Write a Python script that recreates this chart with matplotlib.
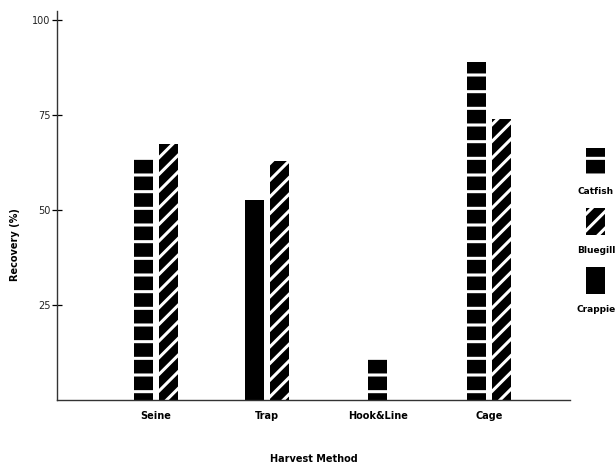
import matplotlib
matplotlib.use("Agg")
import matplotlib.pyplot as plt
from matplotlib.patches import Rectangle
import numpy as np

# recovery (%) by harvest method
methods = ["Seine", "Trap", "Hook&Line", "Cage"]
species = ["Catfish", "Bluegill", "Crappie"]
catfish = [63.5, 0, 11, 89]
bluegill = [67.3, 62.8, 0, 74]
crappie = [0, 52.6, 0, 0]
yticks = [25, 50, 75, 100]

values = {"Catfish": catfish, "Bluegill": bluegill, "Crappie": crappie}
hatches = {"Catfish": "-", "Bluegill": "//", "Crappie": None}

plt.rcParams["hatch.linewidth"] = 2.2

fig = plt.figure(figsize=(6.16, 4.68), dpi=100)
ax = fig.add_axes([0.0925, 0.1453, 0.8325, 0.8312])

x = np.arange(len(methods))
width = 0.171
gap = 0.1126

# left slot: catfish or crappie, right slot: bluegill; single bars are centred
for i in range(len(methods)):
    present = [s for s in ["Catfish", "Crappie", "Bluegill"] if values[s][i] > 0]
    n = len(present)
    for j, s in enumerate(present):
        off = 0 if n == 1 else (-gap if j == 0 else gap)
        ax.bar(x[i] + off, values[s][i], width, color="black",
               edgecolor="white", linewidth=0, hatch=hatches[s])

ax.set_xlim(-0.892, 3.73)
ax.set_ylim(0, 102.4)
ax.set_xticks(x)
ax.set_xticklabels(methods, fontsize=7, fontweight="bold")
ax.tick_params(axis="x", length=0, pad=8)
ax.set_yticks(yticks)
ax.set_yticklabels([str(t) for t in yticks], fontsize=7, color="#222222")
ax.tick_params(axis="y", direction="inout", length=7, width=0.9, pad=1)

for s in ["top", "right"]:
    ax.spines[s].set_visible(False)
for s in ["left", "bottom"]:
    ax.spines[s].set_linewidth(1.0)
    ax.spines[s].set_color("#333333")

ax.set_ylabel("Recovery (%)", fontsize=7, fontweight="bold")
ax.yaxis.set_label_coords(-0.072, 0.40)
ax.set_xlabel("Harvest Method", fontsize=7, fontweight="bold")
ax.xaxis.set_label_coords(0.5, -0.138)

# legend drawn stacked: patch above its label, running off the right edge
W, H = 616, 468
for k, s in enumerate(species):
    top = 148 + k * 59.5
    fig.add_artist(Rectangle((586 / W, 1 - (top + 27) / H), 19 / W, 27 / H,
                             transform=fig.transFigure, facecolor="black",
                             edgecolor="white", linewidth=0, hatch=hatches[s]))
    fig.text(596 / W, 1 - (top + 43) / H, s, ha="center", va="center",
             fontsize=6.5, fontweight="bold")

fig.savefig("out.png", dpi=100)
